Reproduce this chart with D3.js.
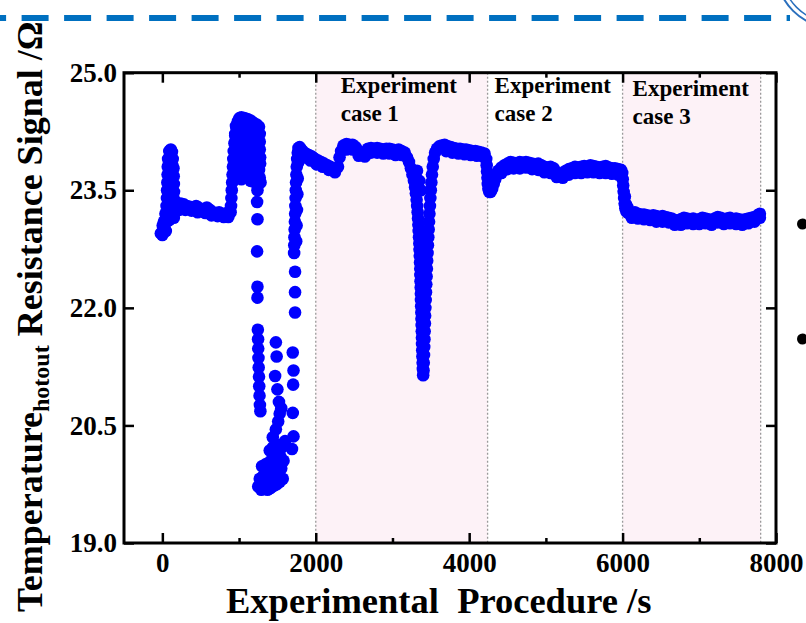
<!DOCTYPE html>
<html>
<head>
<meta charset="utf-8">
<script src="https://cdn.jsdelivr.net/npm/d3@7/dist/d3.min.js"></script>
<style>
  html, body { margin: 0; padding: 0; background: #fff; }
  svg { display: block; }
  text { font-family: "Liberation Serif", "Times New Roman", serif; font-weight: bold; }
</style>
</head>
<body>
<div id="chart"></div>
<script>
// ---------- DATA (time in s, signal in Ω) ----------
const startupPts = [
  [90,24.0],[110,24.02],[125,23.99],
  [75,23.9],[95,23.92],[115,23.93],[135,23.9],
  [70,23.8],[90,23.82],[110,23.8],[130,23.82],[145,23.78],
  [68,23.7],[88,23.72],[108,23.7],[128,23.72],[148,23.68],
  [65,23.6],[85,23.62],[105,23.6],[125,23.6],[150,23.58],
  [62,23.5],[82,23.52],[102,23.5],[122,23.5],[152,23.48],
  [60,23.4],[80,23.42],[100,23.4],[120,23.42],[155,23.38],
  [55,23.3],[78,23.3],[98,23.32],[118,23.3],[140,23.3],[160,23.3],
  [40,23.2],[60,23.2],[80,23.22],[100,23.2],[130,23.2],[165,23.22],
  [5,23.05],[20,23.1],[40,23.12],[60,23.1],[90,23.12],[150,23.15],
  [-20,22.95],[0,22.93],[15,22.98],[30,23.0],[45,22.98],
  [180,23.3],[200,23.32],[240,23.33],[280,23.32],[320,23.3],[360,23.29],[400,23.27],[440,23.3],[470,23.28],
  [500,23.25],[540,23.26],[580,23.28],[620,23.25],[660,23.22],[700,23.21],[740,23.22],[780,23.2],
  [820,23.2],[860,23.22],[890,23.22],
  [190,23.24],[220,23.25],[300,23.25],[380,23.24],[460,23.22],[560,23.21],[640,23.18],[720,23.17],[800,23.16],[860,23.16]
];
const overshootPts = [
  [895,23.3],[900,23.4],[905,23.5],[910,23.6],[915,23.7],[920,23.8],[925,23.9],[930,24.0],
  [940,24.1],[950,24.2],[965,24.3],[985,24.38],[1005,24.42],
  [1030,24.43],[1070,24.42],[1110,24.41],[1150,24.39],[1190,24.36],[1230,24.34],[1260,24.31],
  [960,24.32],[1000,24.33],[1040,24.33],[1080,24.32],[1120,24.31],[1160,24.3],[1200,24.28],[1240,24.26],[1270,24.22],
  [950,24.22],[990,24.22],[1030,24.23],[1070,24.21],[1110,24.22],[1150,24.2],[1190,24.19],[1230,24.18],[1270,24.12],
  [950,24.12],[990,24.12],[1030,24.13],[1070,24.1],[1110,24.12],[1150,24.1],[1190,24.09],[1230,24.08],[1270,24.02],
  [955,24.02],[995,24.02],[1035,24.03],[1075,24.0],[1115,24.02],[1155,24.0],[1195,23.99],[1235,23.98],[1275,23.92],
  [960,23.92],[1000,23.92],[1040,23.93],[1080,23.9],[1120,23.92],[1160,23.9],[1200,23.89],[1240,23.88],[1275,23.84],
  [980,23.82],[1020,23.82],[1060,23.81],[1100,23.82],[1140,23.8],[1180,23.8],[1220,23.79],[1260,23.76],
  [1010,23.72],[1050,23.7],[1100,23.72],[1150,23.7],[1200,23.7],[1240,23.67],[1270,23.66],
  [1030,23.64],[1150,23.62],[1210,23.6],[1250,23.58],[1280,23.6]
];
const coolingPts = [
  [1240,23.5],[1235,23.35],[1240,23.13],[1235,22.72],[1240,22.27],[1240,22.13],
  [1245,21.72],[1248,21.6],[1250,21.48],[1253,21.36],[1256,21.24],[1260,21.12],[1263,21.0],[1267,20.88],
  [1272,20.76],[1278,20.68],
  [1250,19.72],[1290,19.68],[1330,19.7],[1370,19.68],[1410,19.7],[1450,19.73],[1490,19.75],[1530,19.78],[1570,19.82],
  [1270,19.82],[1310,19.85],[1350,19.82],[1390,19.88],[1430,19.85],[1470,19.9],[1510,19.92],[1550,19.95],
  [1300,19.98],[1340,20.0],[1380,20.02],[1420,20.05],[1460,20.0],[1500,20.08],[1540,20.1],[1580,20.05],
  [1400,20.18],[1440,20.22],[1480,20.2],[1520,20.25],[1560,20.22],[1600,20.3],
  [1440,20.35],[1480,20.45],[1510,20.55],[1530,20.65],[1550,20.72],
  [1480,21.56],[1490,21.38],[1470,21.13],[1500,20.96],[1520,20.8],
  [1700,21.43],[1710,21.2],[1705,21.02],[1700,20.66],[1710,20.36],[1690,20.2],
  [1730,22.46],[1730,22.2],[1730,21.94],
  [1718,22.7],[1720,22.8],[1722,22.9],[1725,23.0],[1728,23.1],[1731,23.2],[1734,23.3],[1737,23.4],
  [1740,23.5],[1743,23.6],[1747,23.7],[1752,23.8],[1758,23.9],[1765,23.98],[1775,24.04],[1790,24.05],
  [1745,22.85],[1750,23.05],[1755,23.25],[1760,23.45],[1765,23.65],[1770,23.85],
  [1810,24.02],[1830,24.0],[1870,23.97],[1910,23.95],[1950,23.93],[1990,23.9],[2030,23.88],[2070,23.86],[2110,23.84],
  [2150,23.82],[2190,23.8],[2230,23.78],[2260,23.77],[2290,23.8],
  [1850,23.92],[1930,23.88],[2010,23.83],[2090,23.8],[2170,23.76],[2250,23.73]
];
const case1Pts = [
  [2310,23.92],[2330,24.0],[2360,24.07],[2400,24.09],[2440,24.08],[2480,24.08],[2520,24.05],[2560,24.0],
  [2600,23.97],[2640,23.98],[2680,24.03],[2720,24.04],[2760,24.03],[2800,24.04],[2840,24.03],[2880,24.02],
  [2920,24.03],[2960,24.03],[3000,24.02],[3040,24.0],[3080,24.02],[3120,24.0],[3160,23.98],
  [2400,24.02],[2480,24.02],[2560,23.94],[2640,23.93],[2720,23.98],[2800,23.98],[2880,23.97],[2960,23.97],
  [3040,23.95],[3120,23.95],
  [3190,23.92],[3215,23.86],[3240,23.78],[3260,23.7],[3280,23.62],[3295,23.54],[3305,23.46],[3315,23.38],
  [3322,23.3],[3328,23.22],[3333,23.14],[3338,23.06],[3342,22.98],[3346,22.9],[3350,22.82],[3353,22.74],
  [3356,22.66],[3359,22.58],[3362,22.5],[3364,22.42],[3366,22.34],[3368,22.26],[3370,22.18],[3372,22.1],
  [3374,22.02],[3376,21.94],[3378,21.86],[3380,21.78],[3382,21.7],[3384,21.62],[3386,21.54],[3388,21.46],
  [3390,21.38],[3393,21.3],[3396,21.22],[3400,21.14],
  [3320,23.75],[3350,23.62],[3370,23.5],
  [3405,21.2],[3408,21.3],[3411,21.4],[3414,21.5],[3417,21.6],[3420,21.7],[3423,21.8],[3426,21.9],
  [3429,22.0],[3433,22.1],[3437,22.2],[3441,22.3],[3445,22.4],[3449,22.5],[3453,22.6],[3457,22.7],
  [3462,22.8],[3467,22.9],[3472,23.0],[3477,23.1],[3482,23.2],[3488,23.3],[3494,23.4],[3500,23.5],
  [3507,23.6],[3515,23.7],[3525,23.8],[3538,23.9],[3555,23.98],[3580,24.03],[3610,24.06],[3640,24.07],[3680,24.08],
  [3720,24.06],[3760,24.05],[3800,24.04],[3840,24.03],[3880,24.03],[3920,24.02],[3960,24.02],[4000,24.01],
  [4040,24.0],[4080,24.0],[4120,23.99],[4160,23.98],[4200,23.97],
  [3700,24.0],[3780,23.98],[3860,23.97],[3940,23.96],[4020,23.95],[4100,23.94],[4180,23.93]
];
const case2Pts = [
  [4222,23.9],[4228,23.82],[4233,23.74],[4238,23.66],[4243,23.58],[4250,23.52],[4262,23.48],[4280,23.48],
  [4300,23.52],[4320,23.58],[4340,23.64],[4360,23.7],[4265,23.6],[4300,23.62],
  [4380,23.75],[4420,23.79],[4460,23.82],[4500,23.84],[4540,23.86],[4580,23.85],[4620,23.84],[4660,23.86],
  [4700,23.85],[4740,23.86],[4780,23.85],[4820,23.84],[4860,23.83],[4900,23.84],[4940,23.82],[4980,23.8],
  [5020,23.79],[5060,23.8],[5100,23.78],[5140,23.73],[5180,23.7],[5220,23.72],[5260,23.75],[5300,23.77],
  [5340,23.78],[5380,23.8],[5420,23.79],[5460,23.8],[5500,23.81],[5540,23.8],[5580,23.82],[5620,23.81],
  [5660,23.8],[5700,23.79],[5740,23.8],[5780,23.81],[5820,23.79],[5860,23.78],[5900,23.78],[5940,23.77],[5980,23.76],
  [4420,23.72],[4500,23.77],[4580,23.78],[4660,23.78],[4740,23.79],[4820,23.77],[4900,23.76],[4980,23.73],
  [5060,23.72],[5140,23.67],[5220,23.66],[5300,23.7],[5380,23.72],[5460,23.72],[5540,23.73],[5620,23.73],
  [5700,23.72],[5780,23.72],[5860,23.71],[5940,23.7]
];
const case3Pts = [
  [5995,23.72],[6002,23.64],[6008,23.56],[6014,23.48],[6020,23.4],[6027,23.33],[6036,23.27],[6050,23.23],
  [6075,23.21],[6110,23.2],[6030,23.42],[6045,23.32],[6065,23.28],
  [6160,23.22],[6200,23.2],[6240,23.19],[6280,23.19],[6320,23.18],[6360,23.17],[6400,23.18],[6440,23.17],
  [6480,23.16],[6520,23.17],[6560,23.16],[6600,23.15],[6640,23.14],[6680,23.12],[6720,23.11],[6760,23.13],
  [6800,23.15],[6840,23.14],[6880,23.13],[6920,23.14],[6960,23.12],[7000,23.13],[7040,23.15],[7080,23.14],
  [7120,23.13],[7160,23.12],[7200,23.14],[7240,23.16],[7280,23.15],[7320,23.13],[7360,23.14],[7400,23.15],
  [7440,23.13],[7480,23.14],[7520,23.13],[7560,23.12],[7600,23.13],[7640,23.14],[7680,23.15],[7720,23.16],
  [7760,23.18],[7790,23.2],
  [6120,23.15],[6200,23.14],[6280,23.13],[6360,23.12],[6440,23.1],[6520,23.1],[6600,23.09],[6680,23.06],[6760,23.06],
  [6840,23.08],[6920,23.07],[7000,23.07],[7080,23.08],[7160,23.06],[7240,23.09],[7320,23.07],[7400,23.08],
  [7480,23.07],[7560,23.06],[7640,23.08],[7720,23.1],[7790,23.15]
];

const xMajorTicks = [0, 2000, 4000, 6000, 8000];
const xMinorTicks = [1000, 3000, 5000, 7000];
const yMajorTicks = [19.0, 20.5, 22.0, 23.5, 25.0];
const caseBounds = [2000, 4240, 6000, 7800];
const shadedRanges = [[2000, 4240], [6000, 7800]];
const caseLabels = [
  { x: 2000, lines: ["Experiment", "case 1"] },
  { x: 4240, lines: ["Experiment", "case 2"] },
  { x: 6000, lines: ["Experiment", "case 3"] }
];
const xTitle = "Experimental  Procedure /s";

// ---------- LAYOUT ----------
const W = 806, H = 623;
const L = 124, R = 776, T = 72.7, B = 543;
const svg = d3.select("#chart").append("svg").attr("width", W).attr("height", H);

const x = d3.scaleLinear().domain([-500, 8000]).range([L, R]);
const y = d3.scaleLinear().domain([19, 25]).range([B, T]);

// top dashed decoration
svg.append("line").attr("x1", 0).attr("x2", 790).attr("y1", 18).attr("y2", 18)
  .attr("stroke", "#0070C0").attr("stroke-width", 6)
  .attr("stroke-dasharray", "27,15.5").attr("stroke-dashoffset", 20.9);
// logo fragment
svg.append("circle").attr("cx", 832).attr("cy", -28).attr("r", 55)
  .attr("fill", "#fff").attr("stroke", "#2a6fbd").attr("stroke-width", 2);
svg.append("circle").attr("cx", 832).attr("cy", -28).attr("r", 50)
  .attr("fill", "none").attr("stroke", "#2a6fbd").attr("stroke-width", 1.5);
// bullets on the right
[224, 339].forEach(cy => svg.append("circle").attr("cx", 802.5).attr("cy", cy).attr("r", 5.5).attr("fill", "#000"));

// shaded regions
svg.selectAll("rect.shade").data(shadedRanges).enter().append("rect")
  .attr("class", "shade")
  .attr("x", d => x(d[0])).attr("width", d => x(d[1]) - x(d[0]))
  .attr("y", T).attr("height", B - T).attr("fill", "#fdf2f7");

// dotted dividers
svg.selectAll("line.div").data(caseBounds).enter().append("line")
  .attr("class", "div")
  .attr("x1", d => x(d)).attr("x2", d => x(d)).attr("y1", T).attr("y2", B)
  .attr("stroke", "#9a9a9a").attr("stroke-width", 1.3).attr("stroke-dasharray", "2,2");

// case labels
const labelOffsets = [25, 7, 10];
caseLabels.forEach((c, i) => {
  const lx = x(c.x) + labelOffsets[i];
  const t = svg.append("text").attr("x", lx)
    .attr("y", i === 2 ? 96 : 93).attr("font-size", 23).attr("fill", "#000");
  c.lines.forEach((ln, j) => t.append("tspan").attr("x", lx)
    .attr("dy", j === 0 ? 0 : 28).text(ln));
});

// data points
const allSegments = [startupPts, overshootPts, coolingPts, case1Pts, case2Pts, case3Pts];
const g = svg.append("g");
allSegments.forEach(seg => {
  g.selectAll(null).data(seg).enter().append("circle")
    .attr("cx", d => x(d[0])).attr("cy", d => y(d[1])).attr("r", 6.3)
    .attr("fill", "#0000ff");
});

// axes
const fontAxis = sel => sel.selectAll("text").attr("font-size", 27).attr("fill", "#000")
  .attr("font-family", "Liberation Serif").attr("font-weight", "bold");
const styleTicks = sel => { sel.select(".domain").remove(); sel.selectAll("line").attr("stroke", "#000").attr("stroke-width", 2.5); };

svg.append("g").attr("transform", `translate(0,${B})`)
  .call(d3.axisBottom(x).tickValues(xMajorTicks).tickSize(-10).tickPadding(10).tickFormat(d3.format("d")))
  .call(styleTicks).call(fontAxis);
svg.append("g").attr("transform", `translate(0,${B})`)
  .call(d3.axisBottom(x).tickValues(xMinorTicks).tickSize(-5).tickFormat(""))
  .call(styleTicks);
svg.append("g").attr("transform", `translate(0,${T})`)
  .call(d3.axisTop(x).tickValues(xMajorTicks).tickSize(-10).tickFormat(""))
  .call(styleTicks);
svg.append("g").attr("transform", `translate(0,${T})`)
  .call(d3.axisTop(x).tickValues(xMinorTicks).tickSize(-5).tickFormat(""))
  .call(styleTicks);
svg.append("g").attr("transform", `translate(${L},0)`)
  .call(d3.axisLeft(y).tickValues(yMajorTicks).tickSize(-10).tickPadding(7).tickFormat(d3.format(".1f")))
  .call(styleTicks).call(fontAxis);
svg.append("g").attr("transform", `translate(${R},0)`)
  .call(d3.axisRight(y).tickValues(yMajorTicks).tickSize(-10).tickFormat(""))
  .call(styleTicks);

// frame
svg.append("rect").attr("x", L).attr("y", T).attr("width", R - L).attr("height", B - T)
  .attr("fill", "none").attr("stroke", "#000").attr("stroke-width", 3);

// axis titles
svg.append("text").attr("x", 226).attr("y", 613).attr("font-size", 36.5).attr("fill", "#000")
  .attr("xml:space", "preserve").style("white-space", "pre").text(xTitle);

const yt = svg.append("text").attr("transform", "translate(42,612) rotate(-90)")
  .attr("font-size", 36).attr("fill", "#000");
yt.append("tspan").text("Temperature");
yt.append("tspan").attr("font-size", 24).attr("dy", 7).text("hotout");
yt.append("tspan").attr("dy", -7).text(" Resistance Signal /Ω");
</script>
</body>
</html>
